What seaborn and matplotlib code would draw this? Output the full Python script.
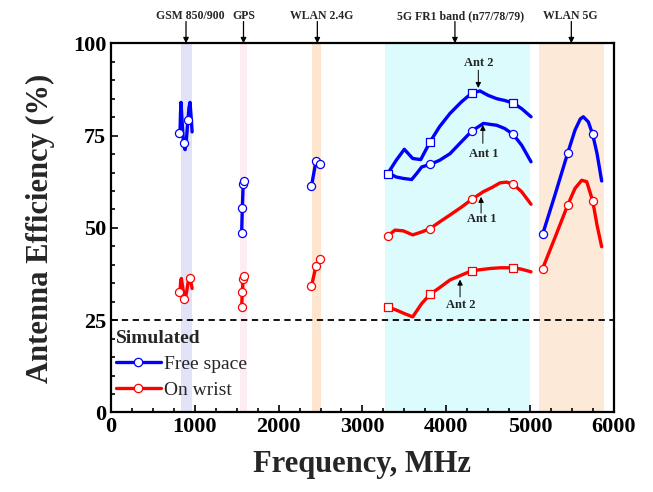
import matplotlib
matplotlib.use("Agg")
import matplotlib.pyplot as plt
from matplotlib.lines import Line2D
import seaborn as sns
import pandas as pd

# ---------------- data ----------------
# GSM 850/900
gsm_fs_f = [823, 829, 835, 848, 862, 876, 884, 900, 915, 930, 943, 956, 968]
gsm_fs_v = [75.6, 81.0, 84.0, 79.0, 74.0, 71.8, 71.2, 74.0, 78.5, 82.5, 84.0, 80.0, 76.0]
gsm_fs_mf = [815, 866, 922]
gsm_fs_mv = [75.6, 73.0, 79.2]
gsm_ow_f = [823, 831, 839, 852, 866, 879, 893, 908, 922, 935, 943, 956, 968]
gsm_ow_v = [32.7, 35.5, 36.3, 34.5, 32.3, 30.6, 31.5, 33.5, 35.5, 36.3, 36.6, 35.0, 33.6]
gsm_ow_mf = [815, 875, 943]
gsm_ow_mv = [32.7, 30.8, 36.3]

# GPS
gps_fs_f = [1559, 1567, 1575, 1579, 1591]
gps_fs_v = [48.7, 55.3, 60.5, 62.0, 62.7]
gps_fs_mf = [1559, 1567, 1579, 1591]
gps_fs_mv = [48.7, 55.3, 62.0, 62.7]
gps_ow_f = [1559, 1567, 1575, 1579, 1591]
gps_ow_v = [28.6, 32.7, 35.5, 36.1, 36.9]
gps_ow_mf = [1559, 1567, 1579, 1591]
gps_ow_mv = [28.6, 32.7, 36.1, 36.9]

# WLAN 2.4G
wl24_f = [2392, 2446, 2498]
wl24_fs_v = [61.3, 68.1, 67.3]
wl24_ow_v = [34.2, 39.7, 41.5]

# 5G FR1 band
fr1_fs2_f = [3302, 3400, 3500, 3600, 3696, 3807, 3920, 4045, 4180, 4304, 4403, 4500, 4602, 4700, 4800, 4900, 5012]
fr1_fs2_v = [64.7, 68.2, 71.3, 68.8, 68.5, 73.3, 77.4, 81.0, 84.1, 86.5, 87.1, 85.9, 85.0, 84.5, 83.8, 82.3, 80.1]
fr1_fs2_mf = [3302, 3807, 4304, 4800]
fr1_fs2_mv = [64.7, 73.3, 86.5, 83.8]
fr1_fs1_f = [3302, 3400, 3488, 3588, 3650, 3707, 3807, 3920, 4045, 4180, 4304, 4443, 4602, 4700, 4800, 4900, 5012]
fr1_fs1_v = [65.0, 63.8, 63.4, 63.1, 64.8, 66.5, 67.2, 68.3, 70.1, 73.3, 76.2, 78.3, 77.8, 76.9, 75.3, 72.4, 67.9]
fr1_fs1_mf = [3807, 4304, 4800]
fr1_fs1_mv = [67.2, 76.2, 75.3]
fr1_ow1_f = [3302, 3389, 3488, 3600, 3707, 3807, 3920, 4045, 4180, 4304, 4443, 4550, 4642, 4720, 4800, 4900, 5012]
fr1_ow1_v = [47.8, 49.4, 49.2, 48.1, 48.9, 49.8, 51.6, 53.5, 55.6, 57.7, 59.8, 61.0, 62.2, 62.4, 61.8, 59.8, 56.4]
fr1_ow1_mf = [3302, 3807, 4304, 4800]
fr1_ow1_mv = [47.8, 49.8, 57.7, 61.8]
fr1_ow2_f = [3302, 3409, 3500, 3600, 3707, 3807, 3920, 4045, 4180, 4304, 4523, 4650, 4800, 4900, 5012]
fr1_ow2_v = [28.6, 27.7, 26.8, 25.9, 29.5, 32.0, 33.8, 35.9, 37.2, 38.4, 39.0, 39.2, 39.2, 38.8, 38.1]
fr1_ow2_mf = [3302, 3807, 4304, 4800]
fr1_ow2_mv = [28.6, 32.0, 38.4, 39.2]

# WLAN 5G
wl5_fs_f = [5151, 5300, 5450, 5537, 5600, 5636, 5696, 5748, 5800, 5855]
wl5_fs_v = [48.3, 59.1, 70.3, 76.5, 79.5, 80.1, 78.7, 75.3, 70.1, 62.7]
wl5_fs_mf = [5151, 5450, 5748]
wl5_fs_mv = [48.3, 70.3, 75.3]
wl5_ow_f = [5151, 5300, 5450, 5537, 5617, 5677, 5748, 5800, 5855]
wl5_ow_v = [39.0, 47.5, 56.2, 60.7, 62.9, 62.5, 57.3, 50.7, 44.9]
wl5_ow_mf = [5151, 5450, 5748]
wl5_ow_mv = [39.0, 56.2, 57.3]

bands = ["GSM 850/900", "GPS", "WLAN 2.4G", "5G FR1 band (n77/78/79)", "WLAN 5G"]
band_lo = [830, 1535, 2402, 3270, 5111]
band_hi = [970, 1626, 2502, 5000, 5883]
band_label_x = [950, 1581, 2512, 4167, 5486]
band_arrow_x = [895, 1581, 2462, 4104, 5493]
band_colors = ["#e2e2f8", "#fdedf2", "#fde5d0", "#dcfbfc", "#fde9d8"]

conditions = ["Free space", "On wrist"]
colors = {"Free space": "#0000ff", "On wrist": "#ff0000"}

# ---------------- tables ----------------
line_sets = [
    ("gsm_fs", "Free space", gsm_fs_f, gsm_fs_v),
    ("gsm_ow", "On wrist", gsm_ow_f, gsm_ow_v),
    ("gps_fs", "Free space", gps_fs_f, gps_fs_v),
    ("gps_ow", "On wrist", gps_ow_f, gps_ow_v),
    ("wl24_fs", "Free space", wl24_f, wl24_fs_v),
    ("wl24_ow", "On wrist", wl24_f, wl24_ow_v),
    ("fr1_fs2", "Free space", fr1_fs2_f, fr1_fs2_v),
    ("fr1_fs1", "Free space", fr1_fs1_f, fr1_fs1_v),
    ("fr1_ow1", "On wrist", fr1_ow1_f, fr1_ow1_v),
    ("fr1_ow2", "On wrist", fr1_ow2_f, fr1_ow2_v),
    ("wl5_fs", "Free space", wl5_fs_f, wl5_fs_v),
    ("wl5_ow", "On wrist", wl5_ow_f, wl5_ow_v),
]
rows = []
for seg, cond, fs, vs in line_sets:
    for f, v in zip(fs, vs):
        rows.append({"seg": seg, "cond": cond, "freq": f, "eff": v})
df_lines = pd.DataFrame(rows)

marker_sets = [
    ("Free space", "o", gsm_fs_mf, gsm_fs_mv),
    ("On wrist", "o", gsm_ow_mf, gsm_ow_mv),
    ("Free space", "o", gps_fs_mf, gps_fs_mv),
    ("On wrist", "o", gps_ow_mf, gps_ow_mv),
    ("Free space", "o", wl24_f, wl24_fs_v),
    ("On wrist", "o", wl24_f, wl24_ow_v),
    ("Free space", "s", fr1_fs2_mf, fr1_fs2_mv),
    ("Free space", "o", fr1_fs1_mf, fr1_fs1_mv),
    ("On wrist", "o", fr1_ow1_mf, fr1_ow1_mv),
    ("On wrist", "s", fr1_ow2_mf, fr1_ow2_mv),
    ("Free space", "o", wl5_fs_mf, wl5_fs_mv),
    ("On wrist", "o", wl5_ow_mf, wl5_ow_mv),
]

# ---------------- plot ----------------
sns.set_style("white")
plt.rcParams["font.family"] = ["Liberation Serif", "DejaVu Serif"]

fig = plt.figure(figsize=(6.53, 4.92), dpi=100)
ax = fig.add_axes([0.170, 0.1616, 0.770, 0.7504])

for lo, hi, c in zip(band_lo, band_hi, band_colors):
    ax.axvspan(lo, hi, color=c, lw=0, zorder=0)

ax.axhline(25, color="black", ls=(0, (3.5, 2.5)), lw=1.3, zorder=1)

sns.lineplot(data=df_lines, x="freq", y="eff", hue="cond", units="seg",
             estimator=None, sort=False, palette=colors, lw=2.4,
             legend=False, ax=ax, zorder=3)

for cond, mk, fs, vs in marker_sets:
    sns.scatterplot(x=fs, y=vs, marker=mk, s=34 if mk == "o" else 28,
                    color="white", edgecolor=colors[cond], linewidth=0.9,
                    ax=ax, zorder=4, legend=False)

ax.set_xlim(0, 6000)
ax.set_ylim(0, 100)
ax.set_xticks(range(0, 6001, 1000))
ax.set_xticks(range(0, 6001, 250), minor=True)
ax.set_yticks([0, 25, 50, 75, 100])
ax.set_yticks(range(0, 101, 5), minor=True)
ax.tick_params(axis="both", which="both", direction="in", top=False, right=False,
               bottom=True, left=True, width=1.2, colors="black")
ax.tick_params(axis="both", which="major", length=5, labelsize=16)
ax.tick_params(axis="both", which="minor", length=3)
for lab in ax.get_xticklabels() + ax.get_yticklabels():
    lab.set_fontweight("bold")
for sp in ax.spines.values():
    sp.set_linewidth(1.6)
    sp.set_color("black")

ax.set_xlabel("Frequency, MHz", fontsize=22, fontweight="bold", labelpad=9)
ax.set_ylabel("Antenna Efficiency (%)", fontsize=22, fontweight="bold", labelpad=13)

# band labels with arrows above the frame
for name, tx, axx in zip(bands, band_label_x, band_arrow_x):
    ax.text(tx, 107.3, name, ha="center", va="center", fontsize=8.5,
            fontweight="bold", clip_on=False)
    ax.annotate("", xy=(axx, 100), xytext=(axx, 105.9),
                arrowprops=dict(arrowstyle="-|>", color="black", lw=0.9,
                                mutation_scale=8, shrinkA=0, shrinkB=0),
                annotation_clip=False)

# antenna labels
ant_labels = ["Ant 2", "Ant 1", "Ant 1", "Ant 2"]
ant_text_xy = [(4383, 94.7), (4443, 70.1), (4423, 52.3), (4177, 29.1)]
ant_tail_xy = [(4383, 92.7), (4437, 72.9), (4416, 54.0), (4165, 31.3)]
ant_tip_xy = [(4383, 87.9), (4437, 77.9), (4416, 58.4), (4165, 36.0)]
for lab, txy, tl, tp in zip(ant_labels, ant_text_xy, ant_tail_xy, ant_tip_xy):
    ax.text(txy[0], txy[1], lab, ha="center", va="center", fontsize=9,
            fontweight="bold", zorder=5)
    ax.annotate("", xy=tp, xytext=tl,
                arrowprops=dict(arrowstyle="-|>", color="black", lw=0.7,
                                mutation_scale=8, shrinkA=0, shrinkB=0),
                zorder=5)

handles = [Line2D([0], [0], color=colors[c], lw=2.4, marker="o", markersize=6,
                  markerfacecolor="white", markeredgecolor=colors[c],
                  markeredgewidth=0.9) for c in conditions]
leg = ax.legend(handles, conditions, title="Simulated", loc="lower left",
                bbox_to_anchor=(0.0, 0.024), frameon=False, fontsize=14,
                title_fontproperties={"weight": "bold", "size": 14},
                alignment="left", handlelength=2.3, handletextpad=0.2,
                labelspacing=0.42, borderpad=0.25, borderaxespad=0.0)

fig.savefig("out.png", dpi=100)
